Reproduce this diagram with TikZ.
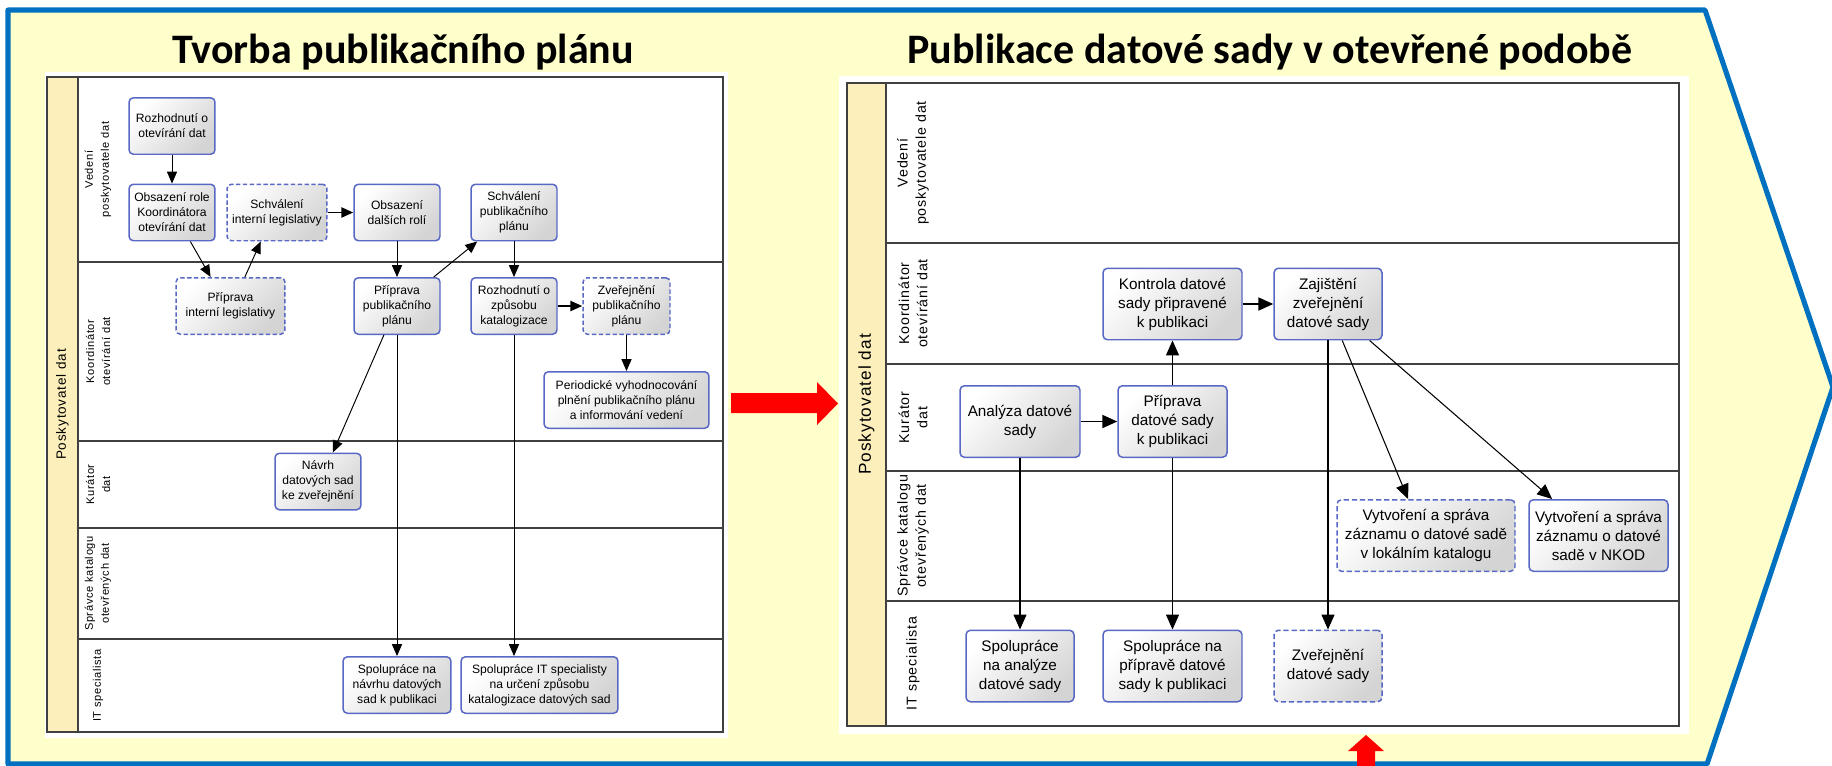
\documentclass[tikz,border=0pt]{standalone}
\usepackage{fontspec}
\setmainfont{Liberation Sans}
\newfontfamily\titlefont{Carlito}
\newfontfamily\lanefont[LetterSpace=6]{Liberation Sans}
\usetikzlibrary{arrows.meta,calc}
\definecolor{bgyellow}{RGB}{255,255,204}
\definecolor{frameblue}{RGB}{0,112,192}
\definecolor{headtan}{RGB}{252,239,187}
\definecolor{poolline}{RGB}{64,64,64}
\definecolor{boxblue}{RGB}{88,104,196}
\definecolor{boxgray}{RGB}{212,212,212}
\definecolor{arrred}{RGB}{255,0,0}
\tikzset{
  task/.style={draw=boxblue, line width=0.85pt, rounded corners=2.5pt,
    top color=white, bottom color=boxgray, shading angle=45,
    align=center, inner sep=0pt, text=black},
  taskL/.style={task, font=\fontsize{6.9}{8.5}\selectfont, minimum height=1.13cm},
  taskR/.style={task, font=\fontsize{8.7}{10.8}\selectfont, minimum height=1.43cm},
  dashL/.style={dash pattern=on 2.5pt off 1.4pt},
  dashR/.style={dash pattern=on 3pt off 1.6pt},
  arrL/.style={-{Triangle[length=6.8pt,width=5.8pt]}, line width=0.55pt, draw=black},
  arrR/.style={-{Triangle[length=8.5pt,width=7.4pt]}, line width=0.6pt, draw=black},
  hthick/.style={line width=1pt},
  laneL/.style={rotate=90, align=center, font=\lanefont\fontsize{6.3}{9.1}\selectfont},
  laneR/.style={rotate=90, align=center, font=\lanefont\fontsize{8.1}{10.4}\selectfont},
  poolframe/.style={draw=poolline, line width=1.1pt},
  titletext/.style={anchor=base, font=\titlefont\bfseries\fontsize{23.9}{28}\selectfont},
  bigarrow/.style={fill=arrred, draw=none}
}
\begin{document}
\begin{tikzpicture}[x=0.02cm,y=-0.02cm]
\useasboundingbox (0,0) rectangle (1832,765);
% background chevron
\draw[fill=bgyellow, draw=frameblue, line width=2.9pt, line join=round]
  (8,10) -- (1705,10) -- (1833,387) -- (1707,764) -- (8,764) -- cycle;

% ---------- left panel ----------
\fill[white] (45,72) rectangle (728,738);
\fill[headtan] (47,77) rectangle (78,732);
\draw[poolframe] (47,77) rectangle (723,732);
\draw[poolframe] (78,77) -- (78,732);
\foreach \yy in {262,441,528,639} \draw[poolframe] (78,\yy) -- (723,\yy);

\node[rotate=90, font=\lanefont\fontsize{7.7}{9}\selectfont] (poolL) at (62.5,404.5) {Poskytovatel dat};
\node[laneL] (lL1) at (98,169.5) {Vedení\\poskytovatele dat};
\node[laneL] (lL2) at (98,351.5) {Koordinátor\\otevírání dat};
\node[laneL] (lL3) at (98,484.5) {Kurátor\\dat};
\node[laneL] (lL4) at (98,583.5) {Správce katalogu\\otevřených dat};
\node[laneL] (lL5) at (98,685.5) {IT specialista};

\node[taskL, minimum width=1.72cm] (rozh) at (172,126) {Rozhodnutí o\\otevírání dat};
\node[taskL, minimum width=1.72cm] (obsR) at (172,212.5) {Obsazení role\\Koordinátora\\otevírání dat};
\node[taskL, dashL, minimum width=2.0cm] (schvI) at (277,212.5) {Schválení\\interní legislativy};
\node[taskL, minimum width=1.72cm] (obsD) at (397,212.5) {Obsazení\\dalších rolí};
\node[taskL, minimum width=1.72cm] (schvP) at (514,212.5) {Schválení\\publikačního\\plánu};
\node[taskL, dashL, minimum width=2.18cm] (pripI) at (230.5,306) {Příprava\\interní legislativy};
\node[taskL, minimum width=1.72cm] (pripP) at (397,306) {Příprava\\publikačního\\plánu};
\node[taskL, minimum width=1.72cm] (rozhK) at (514,306) {Rozhodnutí o\\způsobu\\katalogizace};
\node[taskL, dashL, minimum width=1.74cm] (zverP) at (626.5,306) {Zveřejnění\\publikačního\\plánu};
\node[taskL, minimum width=3.3cm] (period) at (626.5,400) {Periodické vyhodnocování\\plnění publikačního plánu\\a informování vedení};
\node[taskL, minimum width=1.72cm] (navrh) at (318,481.5) {Návrh\\datových sad\\ke zveřejnění};
\node[taskL, minimum width=2.16cm] (spolN) at (397,685) {Spolupráce na\\návrhu datových\\sad k publikaci};
\node[taskL, minimum width=3.14cm] (spolIT) at (539.5,685) {Spolupráce IT specialisty\\na určení způsobu\\katalogizace datových sad};

\draw[arrL] (rozh.south) -- (obsR.north);
\draw[arrL] ($(obsR.south west)!0.71!(obsR.south east)$) -- ($(pripI.north west)!0.32!(pripI.north east)$);
\draw[arrL] ($(pripI.north west)!0.63!(pripI.north east)$) -- ($(schvI.south west)!0.34!(schvI.south east)$);
\draw[arrL, hthick] (schvI.east) -- (obsD.west);
\draw[arrL] (obsD.south) -- (pripP.north);
\draw[arrL] ($(pripP.north west)!0.92!(pripP.north east)$) -- ($(schvP.south west)!0.08!(schvP.south east)$);
\draw[arrL] (schvP.south) -- (rozhK.north);
\draw[arrL, hthick] (rozhK.east) -- (zverP.west);
\draw[arrL] (zverP.south) -- (period.north);
\draw[arrL] ($(pripP.south west)!0.35!(pripP.south east)$) -- ($(navrh.north west)!0.67!(navrh.north east)$);
\draw[arrL] (pripP.south) -- (spolN.north);
\draw[arrL] (rozhK.south) -- (rozhK.south |- spolIT.north);

% ---------- right panel ----------
\fill[white] (839,76) rectangle (1689,734);
\fill[headtan] (847,83) rectangle (886,726);
\draw[poolframe] (847,83) rectangle (1679,726);
\draw[poolframe] (886,83) -- (886,726);
\foreach \yy in {243,364,471,601} \draw[poolframe] (886,\yy) -- (1679,\yy);

\node[rotate=90, font=\lanefont\fontsize{9.8}{11}\selectfont] (poolR) at (866.5,404.5) {Poskytovatel dat};
\node[laneR] (lR1) at (913,163) {Vedení\\poskytovatele dat};
\node[laneR] (lR2) at (913,303.5) {Koordinátor\\otevírání dat};
\node[laneR] (lR3) at (913,417.5) {Kurátor\\dat};
\node[laneR] (lR4) at (913,536) {Správce katalogu\\otevřených dat};
\node[laneR] (lR5) at (913,663.5) {IT specialista};

\node[taskR, minimum width=2.78cm] (kontr) at (1172.5,304) {Kontrola datové\\sady připravené\\k publikaci};
\node[taskR, minimum width=2.16cm] (zajis) at (1328,304) {Zajištění\\zveřejnění\\datové sady};
\node[taskR, minimum width=2.4cm] (analyza) at (1020,421.5) {Analýza datové\\sady};
\node[taskR, minimum width=2.18cm] (pripD) at (1172.5,421.5) {Příprava\\datové sady\\k publikaci};
\node[taskR, dashR, minimum width=3.56cm] (vytL) at (1426,535.5) {Vytvoření a správa\\záznamu o datové sadě\\v lokálním katalogu};
\node[taskR, minimum width=2.78cm] (vytN) at (1598.5,535.5) {Vytvoření a správa\\záznamu o datové\\sadě v NKOD};
\node[taskR, minimum width=2.16cm] (spolA) at (1020,666) {Spolupráce\\na analýze\\datové sady};
\node[taskR, minimum width=2.78cm] (spolP) at (1172.5,666) {Spolupráce na\\přípravě datové\\sady k publikaci};
\node[taskR, dashR, minimum width=2.16cm] (zverD) at (1328,666) {Zveřejnění\\datové sady};

\draw[arrR, hthick] (kontr.east) -- (zajis.west);
\draw[arrR] (pripD.north) -- (kontr.south);
\draw[arrR, hthick] (analyza.east) -- (pripD.west);
\draw[arrR] (analyza.south) -- (spolA.north);
\draw[arrR] (pripD.south) -- (spolP.north);
\draw[arrR] (zajis.south) -- (zverD.north);
\draw[arrR] ($(zajis.south west)!0.63!(zajis.south east)$) -- ($(vytL.north west)!0.40!(vytL.north east)$);
\draw[arrR] ($(zajis.south west)!0.88!(zajis.south east)$) -- ($(vytN.north west)!0.17!(vytN.north east)$);

% ---------- red arrows ----------
\fill[bigarrow] (731,393) -- (817,393) -- (817,382) -- (838,403.5) -- (817,425) -- (817,413) -- (731,413) -- cycle;
\fill[bigarrow] (1357,766) -- (1357,751) -- (1348,751) -- (1366,735) -- (1384,751) -- (1375,751) -- (1375,766) -- cycle;

% ---------- titles ----------
\node[titletext] (t1) at (403,63) {Tvorba publikačního plánu};
\node[titletext] (t2) at (1270,63) {Publikace datové sady v otevřené podobě};
\end{tikzpicture}
\end{document}
